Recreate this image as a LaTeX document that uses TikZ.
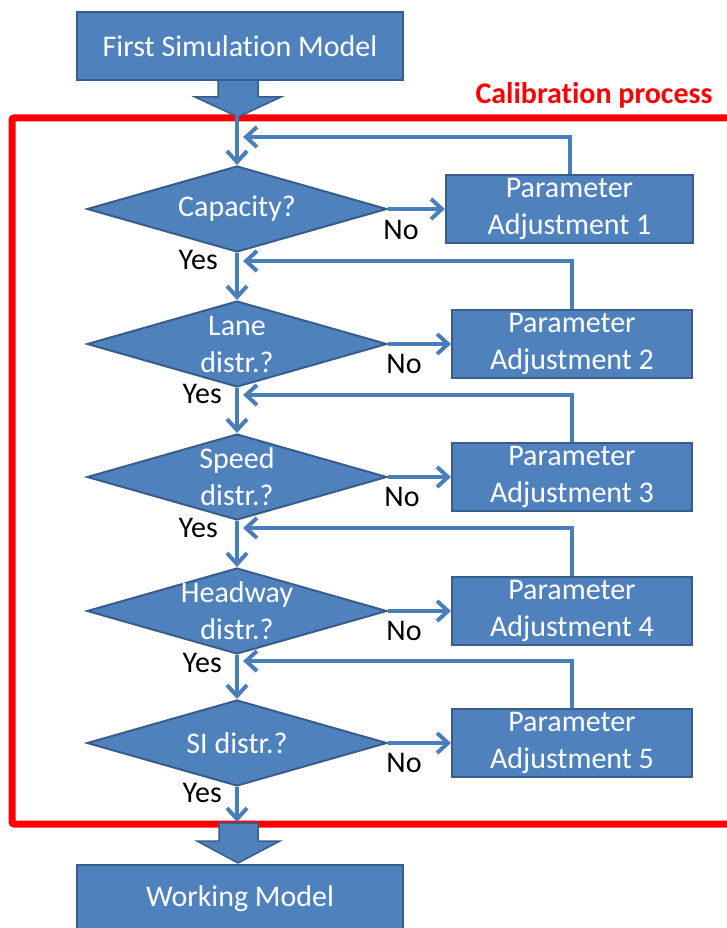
\documentclass[tikz,border=0pt]{standalone}
\usepackage{fontspec}
\setmainfont{Carlito}[Ligatures={NoCommon}]
\usetikzlibrary{arrows,%
                arrows.meta,%
                shapes.geometric,%
                calc,%
                positioning}

\definecolor{boxblue}{HTML}{4F81BD}
\definecolor{boxedge}{HTML}{385D8A}
\definecolor{lineblue}{HTML}{4A7EBB}

\begin{document}
\begin{tikzpicture}[x=1pt,y=-1pt,
    font=\fontsize{30}{37}\selectfont,
    model/.style={rectangle,fill=boxblue,draw=boxedge,line width=2pt,text=white,
                  minimum width=326pt,minimum height=68pt,inner sep=0pt},
    adjust/.style={rectangle,fill=boxblue,draw=boxedge,line width=2pt,text=white,
                   align=center,minimum width=240pt,minimum height=68pt,inner sep=0pt},
    decision/.style={diamond,fill=boxblue,draw=boxedge,line width=2pt,
                     minimum width=300pt,minimum height=86pt,inner sep=0pt},
    dtext/.style={text=white,align=center,inner sep=0pt},
    flow/.style={draw=lineblue,line width=4pt,
                 -{Straight Barb[length=11pt,width=20pt]}},
    answer/.style={text=black,inner sep=0pt},
    bigarrow/.style={fill=boxblue,draw=boxedge,line width=1.5pt}]

      \useasboundingbox (0,0) rectangle (726,928);

      % calibration frame
      \draw[red,line width=7pt,rounded corners=2pt] (740,118) -- (12,118) --
      (12,824) -- (740,824);
      \node[anchor=east,text=red,font=\fontsize{30}{37}\selectfont\bfseries]
      (calib) at (716,95) {Calibration process};

      % thick arrows in and out
      \filldraw[bigarrow] (218,78) -- (218,97) -- (195,97) -- (238,117) --
      (281,97) -- (258,97) -- (258,78) -- cycle;
      \filldraw[bigarrow] (219,823) -- (219,841) -- (197,841) -- (238,863) --
      (280,841) -- (258,841) -- (258,823) -- cycle;

      \node[model] (first) at (240,46) {First Simulation Model};
      \node[model] (work) at (240,899) {Working Model};

      % checks
      \node[decision,label={[dtext]center:Capacity?}] (cap) at (237,209) {};
      \node[decision,label={[dtext]center:{Lane\\distr.?}}] (lane) at (237,344) {};
      \node[decision,label={[dtext]center:{Speed\\distr.?}}] (speed) at (237,477) {};
      \node[decision,label={[dtext]center:{Headway\\distr.?}}] (head) at (237,611) {};
      \node[decision,label={[dtext]center:SI distr.?}] (si) at (237,743) {};

      % adjustments
      \node[adjust,minimum width=247pt] (adj1) at (569.5,209) {Parameter\\Adjustment 1};
      \node[adjust] (adj2) at (572,344) {Parameter\\Adjustment 2};
      \node[adjust] (adj3) at (572,477) {Parameter\\Adjustment 3};
      \node[adjust] (adj4) at (572,611) {Parameter\\Adjustment 4};
      \node[adjust] (adj5) at (572,743) {Parameter\\Adjustment 5};

      \coordinate (in) at (237,116);
      \coordinate (out) at (237,822);
      \coordinate (back1) at (243,137);
      \coordinate (back2) at (243,261);
      \coordinate (back3) at (243,395);
      \coordinate (back4) at (243,528);
      \coordinate (back5) at (243,661);

      % main flow
      \draw[flow] (in) -- (cap);
      \draw[flow] (cap) -- (lane);
      \draw[flow] (lane) -- (speed);
      \draw[flow] (speed) -- (head);
      \draw[flow] (head) -- (si);
      \draw[flow] (si) -- (out);

      \draw[flow] (cap.east) -- (adj1.west);
      \draw[flow] (lane.east) -- (adj2.west);
      \draw[flow] (speed.east) -- (adj3.west);
      \draw[flow] (head.east) -- (adj4.west);
      \draw[flow] (si.east) -- (adj5.west);

      % loops back
      \draw[flow] (adj1.north) |- (back1);
      \draw[flow] (adj2.north) |- (back2);
      \draw[flow] (adj3.north) |- (back3);
      \draw[flow] (adj4.north) |- (back4);
      \draw[flow] (adj5.north) |- (back5);

      % answers
      \node[answer] (no1) at ($(cap.east)+(13,21)$) {No};
      \node[answer] (no2) at ($(lane.east)+(16,20)$) {No};
      \node[answer] (no3) at ($(speed.east)+(14,20)$) {No};
      \node[answer] (no4) at ($(head.east)+(16,20)$) {No};
      \node[answer] (no5) at ($(si.east)+(16,20)$) {No};

      \node[answer,anchor=east] (yes1) at ($(cap.south)+(-19,7)$) {Yes};
      \node[answer,anchor=east] (yes2) at ($(lane.south)+(-15,6)$) {Yes};
      \node[answer,anchor=east] (yes3) at ($(speed.south)+(-19,7)$) {Yes};
      \node[answer,anchor=east] (yes4) at ($(head.south)+(-15,8)$) {Yes};
      \node[answer,anchor=east] (yes5) at ($(si.south)+(-15,6)$) {Yes};
\end{tikzpicture}
\end{document}
